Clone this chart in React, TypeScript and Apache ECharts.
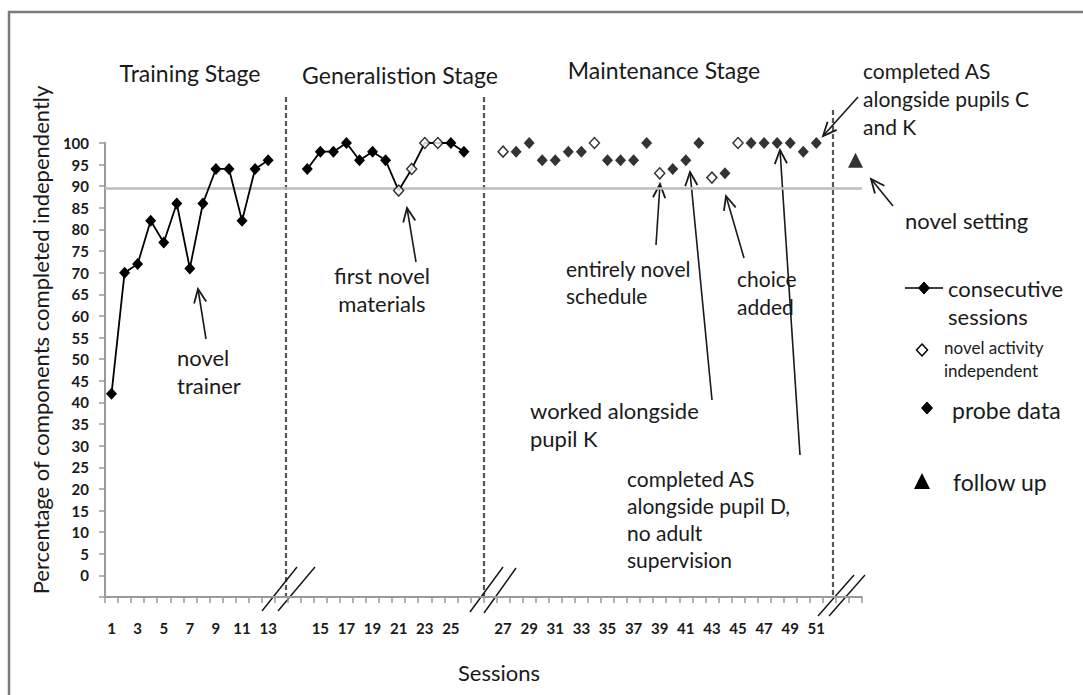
import React, { useEffect, useRef } from 'react';
import * as echarts from 'echarts';

// Category slots on the x axis (blank slots are the axis breaks / follow-up slot)
const sessionLabels = [
  '1', '2', '3', '4', '5', '6', '7', '8', '9', '10', '11', '12', '13',
  '', '',
  '14', '15', '16', '17', '18', '19', '20', '21', '22', '23', '24', '25', '26',
  '', '',
  '27', '28', '29', '30', '31', '32', '33', '34', '35', '36', '37', '38', '39',
  '40', '41', '42', '43', '44', '45', '46', '47', '48', '49', '50', '51',
  '', '', '',
];

// Training stage, sessions 1–13 (consecutive sessions)
const trainingSessions = [1, 2, 3, 4, 5, 6, 7, 8, 9, 10, 11, 12, 13];
const trainingScores = [42, 70, 72, 82, 77, 86, 71, 86, 94, 94, 82, 94, 96];

// Generalisation stage, sessions 14–26 (consecutive sessions)
const generalisationSessions = [14, 15, 16, 17, 18, 19, 20, 21, 22, 23, 24, 25, 26];
const generalisationScores = [94, 98, 98, 100, 96, 98, 96, 89, 94, 100, 100, 100, 98];
const generalisationNovelSessions = [21, 22, 23, 24];

// Maintenance stage, sessions 27–51 (probe data)
const maintenanceSessions = [
  27, 28, 29, 30, 31, 32, 33, 34, 35, 36, 37, 38, 39,
  40, 41, 42, 43, 44, 45, 46, 47, 48, 49, 50, 51,
];
const maintenanceScores = [
  98, 98, 100, 96, 96, 98, 98, 100, 96, 96, 96, 100, 93,
  94, 96, 100, 92, 93, 100, 100, 100, 100, 100, 98, 100,
];
const maintenanceNovelSessions = [27, 34, 39, 43, 45];

// Follow up
const followUpScores = [96];

// Criterion line
const criterionLevel = 89.5;

// Y axis
const yMin = -5;
const yMax = 100;
const yStep = 5;

const FONT = 'Lato, "Open Sans", sans-serif';
const INK = '#1a1a1a';

const slotOf = (s: number) => sessionLabels.indexOf(String(s));

function arrow(x1: number, y1: number, x2: number, y2: number) {
  const ang = Math.atan2(y2 - y1, x2 - x1);
  const L = 15;
  const a = 0.42;
  const p1 = [x2 - L * Math.cos(ang - a), y2 - L * Math.sin(ang - a)];
  const p2 = [x2 - L * Math.cos(ang + a), y2 - L * Math.sin(ang + a)];
  return [
    { type: 'line', silent: true, shape: { x1, y1, x2, y2 }, style: { stroke: INK, lineWidth: 1.6 } },
    { type: 'polyline', silent: true, shape: { points: [p1, [x2, y2], p2] }, style: { stroke: INK, lineWidth: 1.8, fill: 'none' } },
  ];
}

function label(text: string, x: number, yFirstCenter: number, opts: any = {}) {
  const size = opts.size || 22;
  const lh = opts.lh || 27;
  return {
    type: 'text',
    silent: true,
    x,
    y: yFirstCenter - lh / 2,
    style: {
      text,
      fill: INK,
      fontSize: size,
      fontFamily: FONT,
      lineHeight: lh,
      align: opts.align || 'left',
      verticalAlign: 'top',
    },
  };
}

function diamond(cx: number, cy: number, filled: boolean) {
  const w = 5.5, h = 6;
  return {
    type: 'polygon',
    silent: true,
    shape: { points: [[cx, cy - h], [cx + w, cy], [cx, cy + h], [cx - w, cy]] },
    style: filled ? { fill: '#000', stroke: '#000', lineWidth: 1 } : { fill: '#fff', stroke: '#000', lineWidth: 1.5 },
  };
}

function slash(x1: number, y1: number, x2: number, y2: number) {
  return { type: 'line', silent: true, shape: { x1, y1, x2, y2 }, style: { stroke: '#111', lineWidth: 1.4 } };
}

function dashed(x: number, y1: number, y2: number) {
  return {
    type: 'line',
    silent: true,
    shape: { x1: x, y1, x2: x, y2 },
    style: { stroke: '#555', lineWidth: 2.2, lineDash: [5, 3] },
  };
}

export default function App() {
  const ref = useRef<HTMLDivElement>(null);

  useEffect(() => {
    if (!ref.current) return;
    const chart = echarts.init(ref.current, null, { renderer: 'svg' });

    const lineData: any[] = sessionLabels.map(() => null);
    trainingSessions.forEach((s, i) => {
      lineData[slotOf(s)] = trainingScores[i];
    });
    generalisationSessions.forEach((s, i) => {
      const v = generalisationScores[i];
      lineData[slotOf(s)] = generalisationNovelSessions.includes(s) ? { value: v, symbol: 'none' } : v;
    });

    const novelData: any[] = [];
    generalisationSessions.forEach((s, i) => {
      if (generalisationNovelSessions.includes(s)) novelData.push([slotOf(s), generalisationScores[i]]);
    });
    const probeData: any[] = [];
    maintenanceSessions.forEach((s, i) => {
      if (maintenanceNovelSessions.includes(s)) novelData.push([slotOf(s), maintenanceScores[i]]);
      else probeData.push([slotOf(s), maintenanceScores[i]]);
    });
    const followData = followUpScores.map((v) => [sessionLabels.length - 1, v]);

    const graphic: any[] = [
      // frame
      { type: 'rect', silent: true, shape: { x: 9, y: 12, width: 1090, height: 700 }, style: { fill: 'none', stroke: '#7a7a7a', lineWidth: 2.5 } },
      // stage dividers
      dashed(286, 97, 597),
      dashed(484, 97, 597),
      dashed(833, 110, 597),
      // axis breaks
      slash(262, 611, 297, 567),
      slash(278, 611, 315, 567),
      slash(470, 612, 503, 567),
      slash(484, 613, 516, 568),
      slash(818, 616, 854, 575),
      slash(829, 616, 865, 575),
      // stage titles
      label('Training Stage', 190, 73, { align: 'center', size: 23 }),
      label('Generalistion Stage', 400, 75, { align: 'center', size: 23 }),
      label('Maintenance Stage', 664, 70, { align: 'center', size: 23 }),
      // annotations
      label('completed AS\nalongside pupils C\nand K', 863, 70, { lh: 28, size: 21 }),
      label('novel setting', 905, 220),
      label('novel\ntrainer', 177, 357, { lh: 28 }),
      label('first novel\nmaterials', 382, 275, { align: 'center', lh: 28 }),
      label('entirely novel\nschedule', 566, 268, { size: 21 }),
      label('choice\nadded', 737, 278, { lh: 28, size: 21 }),
      label('worked alongside\npupil K', 530, 410, { lh: 28 }),
      label('completed AS\nalongside pupil D,\nno adult\nsupervision', 627, 478, { size: 21 }),
      ...arrow(206, 339, 198, 289),
      ...arrow(416, 262, 407, 208),
      ...arrow(656, 245, 660, 184),
      ...arrow(712, 400, 690, 172),
      ...arrow(744, 258, 726, 196),
      ...arrow(800, 455, 780, 150),
      ...arrow(858, 97, 823, 136),
      ...arrow(893, 206, 871, 179),
      // legend
      { type: 'line', silent: true, shape: { x1: 905, y1: 288, x2: 943, y2: 288 }, style: { stroke: '#000', lineWidth: 1.6 } },
      diamond(924, 288, true),
      label('consecutive\nsessions', 948, 288, { lh: 28 }),
      diamond(922, 350, false),
      label('novel activity\nindependent', 944, 347, { size: 17, lh: 23 }),
      diamond(927, 408, true),
      label('probe data', 952, 410, { size: 23 }),
      {
        type: 'polygon',
        silent: true,
        shape: { points: [[922, 473], [930, 489], [914, 489]] },
        style: { fill: '#000' },
      },
      label('follow up', 953, 482, { size: 23 }),
      // axis titles
      {
        type: 'text',
        silent: true,
        x: 40,
        y: 340,
        rotation: Math.PI / 2,
        style: {
          text: 'Percentage of components completed independently',
          fill: INK,
          fontSize: 22,
          fontFamily: FONT,
          align: 'center',
          verticalAlign: 'middle',
        },
      },
      {
        type: 'text',
        silent: true,
        x: 499,
        y: 672,
        style: { text: 'Sessions', fill: INK, fontSize: 22, fontFamily: FONT, align: 'center', verticalAlign: 'middle' },
      },
    ];

    chart.setOption({
      animation: false,
      backgroundColor: '#ffffff',
      textStyle: { fontFamily: FONT },
      grid: { left: 105, right: 221, top: 143, bottom: 98, containLabel: false },
      xAxis: {
        type: 'category',
        data: sessionLabels,
        boundaryGap: true,
        axisLine: { onZero: false, lineStyle: { color: '#9a9a9a', width: 2 } },
        axisTick: { show: true, interval: 0, length: 6, lineStyle: { color: '#9a9a9a', width: 1.5 } },
        axisLabel: { interval: 1, margin: 23, fontSize: 15, fontWeight: 'bold', color: INK, fontFamily: FONT },
        splitLine: { show: false },
      },
      yAxis: {
        type: 'value',
        min: yMin,
        max: yMax,
        interval: yStep,
        axisLine: { show: true, lineStyle: { color: '#9a9a9a', width: 2 } },
        axisTick: { show: true, length: 6, lineStyle: { color: '#9a9a9a', width: 1.5 } },
        axisLabel: {
          margin: 16,
          fontSize: 15,
          fontWeight: 'bold',
          color: INK,
          fontFamily: FONT,
          formatter: (v: number) => (v < 0 ? '' : String(v)),
        },
        splitLine: { show: false },
      },
      series: [
        {
          name: 'consecutive sessions',
          type: 'line',
          data: lineData,
          connectNulls: false,
          symbol: 'diamond',
          symbolSize: [11, 12],
          showAllSymbol: true,
          lineStyle: { color: '#000', width: 1.8 },
          itemStyle: { color: '#000' },
          z: 3,
          markLine: {
            silent: true,
            symbol: 'none',
            label: { show: false },
            lineStyle: { color: '#bdbdbd', width: 2.5, type: 'solid' },
            data: [{ yAxis: criterionLevel }],
            z: 1,
          },
        },
        {
          name: 'novel activity independent',
          type: 'scatter',
          data: novelData,
          symbol: 'diamond',
          symbolSize: [10, 11],
          itemStyle: { color: '#ffffff', borderColor: '#000', borderWidth: 1.5 },
          z: 4,
        },
        {
          name: 'probe data',
          type: 'scatter',
          data: probeData,
          symbol: 'diamond',
          symbolSize: [11, 12],
          itemStyle: { color: '#000' },
          z: 4,
        },
        {
          name: 'follow up',
          type: 'scatter',
          data: followData,
          symbol: 'triangle',
          symbolSize: [15, 15],
          itemStyle: { color: '#000' },
          z: 4,
        },
      ],
      graphic,
    });

    return () => chart.dispose();
  }, []);

  return (
    <div
      ref={ref}
      style={{ position: 'fixed', left: 0, top: 0, width: 1083, height: 695, background: '#fff' }}
    />
  );
}
